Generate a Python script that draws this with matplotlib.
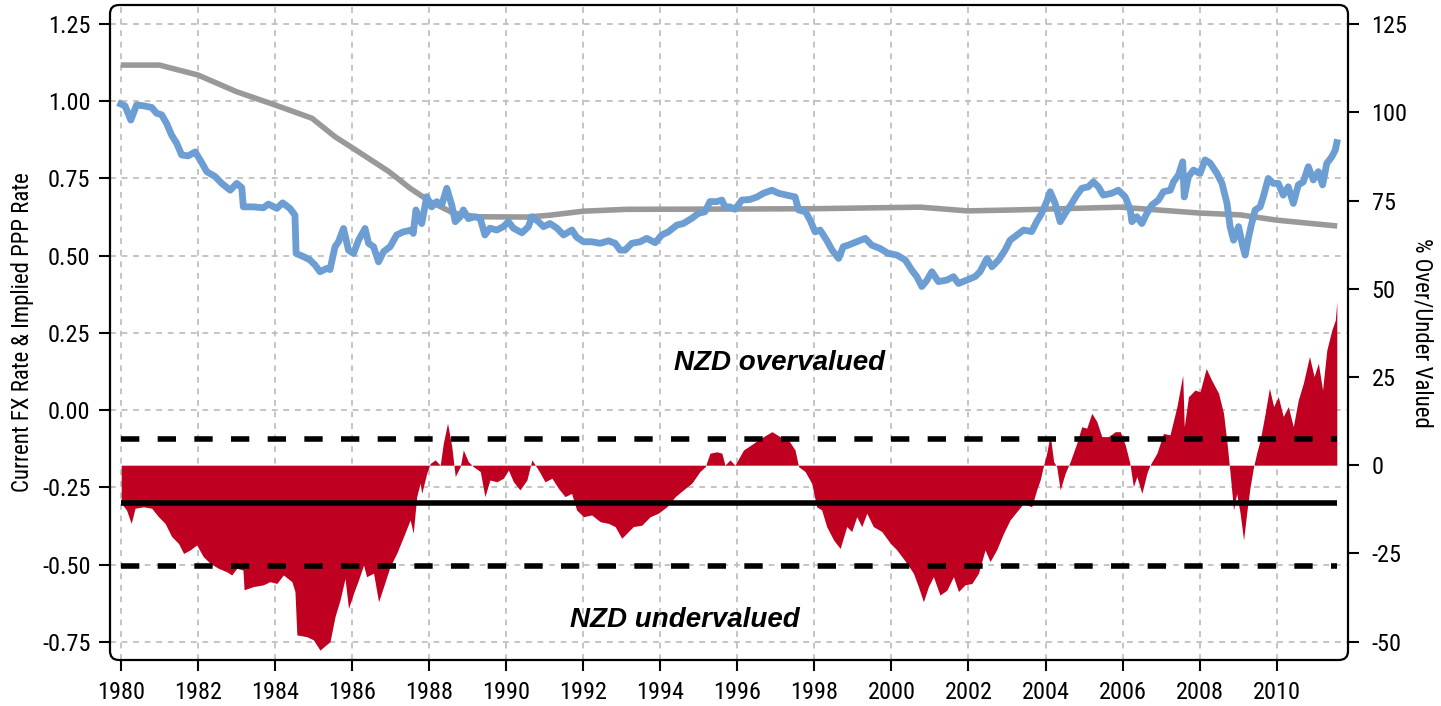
import matplotlib
matplotlib.use("Agg")
import matplotlib.pyplot as plt
from matplotlib import font_manager as fm
from matplotlib.patches import FancyBboxPatch
from matplotlib.ticker import FixedLocator, FormatStrFormatter
import numpy as np

plt.rcParams['axes.unicode_minus'] = False

# ---------------- data ----------------
spot_years = [1980.00, 1980.11, 1980.26, 1980.41, 1980.59, 1980.80, 1980.93, 1981.06, 1981.19, 1981.32,
              1981.45, 1981.58, 1981.75, 1981.93, 1982.06, 1982.23, 1982.45, 1982.62, 1982.84, 1983.01,
              1983.14, 1983.18, 1983.44, 1983.70, 1983.83, 1984.05, 1984.20, 1984.39, 1984.52, 1984.55,
              1984.74, 1984.91, 1985.04, 1985.17, 1985.35, 1985.43, 1985.56, 1985.65, 1985.78, 1985.91,
              1986.04, 1986.17, 1986.34, 1986.43, 1986.56, 1986.69, 1986.82, 1986.99, 1987.16, 1987.33,
              1987.55, 1987.59, 1987.66, 1987.72, 1987.81, 1987.94, 1988.07, 1988.20, 1988.33, 1988.46,
              1988.59, 1988.68, 1988.81, 1988.89, 1989.02, 1989.20, 1989.33, 1989.45, 1989.58, 1989.76,
              1989.93, 1990.06, 1990.19, 1990.41, 1990.58, 1990.67, 1990.84, 1990.97, 1991.14, 1991.32,
              1991.49, 1991.71, 1991.83, 1992.01, 1992.22, 1992.44, 1992.66, 1992.83, 1992.96, 1993.09,
              1993.26, 1993.48, 1993.65, 1993.87, 1994.04, 1994.21, 1994.43, 1994.60, 1994.82, 1994.99,
              1995.16, 1995.29, 1995.47, 1995.60, 1995.68, 1995.81, 1995.94, 1996.12, 1996.33, 1996.51,
              1996.68, 1996.90, 1997.07, 1997.29, 1997.50, 1997.59, 1997.77, 1997.89, 1998.02, 1998.15,
              1998.32, 1998.46, 1998.63, 1998.75, 1998.88, 1999.10, 1999.32, 1999.49, 1999.71, 1999.92,
              2000.14, 2000.36, 2000.53, 2000.66, 2000.79, 2000.92, 2001.05, 2001.22, 2001.44, 2001.61,
              2001.74, 2001.96, 2002.17, 2002.30, 2002.48, 2002.61, 2002.78, 2002.95, 2003.08, 2003.26,
              2003.43, 2003.64, 2003.77, 2003.90, 2004.03, 2004.12, 2004.25, 2004.38, 2004.51, 2004.68,
              2004.81, 2004.94, 2005.11, 2005.24, 2005.37, 2005.50, 2005.72, 2005.89, 2006.07, 2006.20,
              2006.24, 2006.37, 2006.50, 2006.63, 2006.76, 2006.93, 2007.06, 2007.24, 2007.32, 2007.45,
              2007.56, 2007.60, 2007.71, 2007.84, 2008.01, 2008.14, 2008.27, 2008.45, 2008.58, 2008.71,
              2008.79, 2008.88, 2009.01, 2009.10, 2009.18, 2009.27, 2009.35, 2009.44, 2009.57, 2009.65,
              2009.78, 2009.91, 2010.04, 2010.17, 2010.30, 2010.43, 2010.56, 2010.69, 2010.82, 2010.95,
              2011.08, 2011.19, 2011.30, 2011.43, 2011.52, 2011.56]
spot_rate = [0.991, 0.985, 0.939, 0.988, 0.985, 0.980, 0.961, 0.956, 0.928, 0.890,
             0.864, 0.826, 0.823, 0.836, 0.810, 0.772, 0.756, 0.734, 0.712, 0.734,
             0.720, 0.658, 0.658, 0.655, 0.667, 0.653, 0.671, 0.653, 0.631, 0.507,
             0.497, 0.486, 0.470, 0.448, 0.459, 0.455, 0.529, 0.545, 0.588, 0.518,
             0.507, 0.550, 0.588, 0.540, 0.529, 0.480, 0.513, 0.529, 0.567, 0.577,
             0.583, 0.572, 0.648, 0.626, 0.604, 0.691, 0.658, 0.675, 0.664, 0.718,
             0.664, 0.610, 0.626, 0.648, 0.620, 0.626, 0.620, 0.567, 0.589, 0.583,
             0.594, 0.610, 0.589, 0.574, 0.594, 0.626, 0.610, 0.594, 0.604, 0.589,
             0.567, 0.583, 0.560, 0.545, 0.545, 0.540, 0.548, 0.540, 0.518, 0.518,
             0.540, 0.545, 0.556, 0.542, 0.567, 0.577, 0.599, 0.604, 0.621, 0.637,
             0.642, 0.675, 0.675, 0.680, 0.658, 0.658, 0.650, 0.680, 0.682, 0.690,
             0.702, 0.712, 0.702, 0.696, 0.690, 0.648, 0.642, 0.615, 0.577, 0.583,
             0.550, 0.518, 0.491, 0.529, 0.534, 0.545, 0.556, 0.534, 0.523, 0.507,
             0.502, 0.486, 0.453, 0.432, 0.400, 0.420, 0.448, 0.416, 0.421, 0.432,
             0.410, 0.421, 0.432, 0.448, 0.491, 0.464, 0.486, 0.518, 0.550, 0.567,
             0.583, 0.578, 0.610, 0.637, 0.675, 0.707, 0.669, 0.610, 0.637, 0.669,
             0.696, 0.718, 0.723, 0.739, 0.723, 0.696, 0.702, 0.712, 0.690, 0.648,
             0.610, 0.626, 0.604, 0.637, 0.664, 0.680, 0.707, 0.712, 0.739, 0.761,
             0.804, 0.690, 0.756, 0.777, 0.766, 0.810, 0.800, 0.766, 0.734, 0.669,
             0.594, 0.550, 0.594, 0.540, 0.502, 0.560, 0.604, 0.648, 0.658, 0.690,
             0.750, 0.734, 0.734, 0.696, 0.723, 0.669, 0.729, 0.739, 0.788, 0.745,
             0.772, 0.729, 0.799, 0.820, 0.842, 0.866]

ppp_years = [1980.00, 1981.00, 1982.00, 1983.00, 1984.00, 1984.96, 1985.56, 1986.00, 1986.96,
             1987.51, 1988.03, 1988.63, 1989.24, 1990.54, 1991.14, 1992.01, 1993.13, 1996.00,
             1998.00, 2000.75, 2001.97, 2003.20, 2005.93, 2008.00, 2009.05, 2010.00, 2011.57]
ppp_rate = [1.117, 1.117, 1.085, 1.031, 0.988, 0.945, 0.885, 0.850, 0.772,
            0.718, 0.675, 0.638, 0.626, 0.625, 0.631, 0.644, 0.650, 0.651,
            0.652, 0.657, 0.645, 0.648, 0.657, 0.638, 0.632, 0.615, 0.596]

val_years = [1980.01, 1980.15, 1980.27, 1980.37, 1980.59, 1980.80, 1980.98, 1981.15, 1981.32, 1981.50,
             1981.63, 1981.80, 1981.97, 1982.14, 1982.32, 1982.53, 1982.75, 1982.88, 1983.01, 1983.17,
             1983.20, 1983.44, 1983.70, 1983.87, 1984.05, 1984.22, 1984.44, 1984.52, 1984.57, 1984.83,
             1985.00, 1985.17, 1985.43, 1985.56, 1985.69, 1985.82, 1985.91, 1986.04, 1986.17, 1986.30,
             1986.38, 1986.56, 1986.69, 1986.82, 1986.99, 1987.16, 1987.34, 1987.51, 1987.59, 1987.68,
             1987.77, 1987.81, 1987.94, 1988.03, 1988.16, 1988.29, 1988.37, 1988.48, 1988.59, 1988.68,
             1988.81, 1988.89, 1989.02, 1989.15, 1989.33, 1989.45, 1989.58, 1989.76, 1989.93, 1990.06,
             1990.19, 1990.36, 1990.54, 1990.67, 1990.84, 1991.01, 1991.19, 1991.36, 1991.53, 1991.70,
             1991.83, 1992.01, 1992.22, 1992.44, 1992.66, 1992.83, 1993.00, 1993.13, 1993.30, 1993.52,
             1993.74, 1993.95, 1994.17, 1994.39, 1994.60, 1994.82, 1995.03, 1995.17, 1995.29, 1995.47,
             1995.60, 1995.68, 1995.81, 1995.94, 1996.16, 1996.42, 1996.68, 1996.90, 1997.11, 1997.33,
             1997.50, 1997.59, 1997.76, 1997.93, 1998.06, 1998.19, 1998.32, 1998.50, 1998.67, 1998.84,
             1998.97, 1999.10, 1999.23, 1999.36, 1999.53, 1999.75, 1999.97, 2000.14, 2000.40, 2000.57,
             2000.70, 2000.83, 2000.96, 2001.09, 2001.26, 2001.44, 2001.61, 2001.74, 2001.91, 2002.09,
             2002.26, 2002.43, 2002.56, 2002.73, 2002.91, 2003.08, 2003.25, 2003.43, 2003.64, 2003.77,
             2003.86, 2003.95, 2004.03, 2004.12, 2004.21, 2004.29, 2004.38, 2004.51, 2004.64, 2004.81,
             2004.94, 2005.07, 2005.20, 2005.33, 2005.46, 2005.63, 2005.81, 2005.94, 2006.07, 2006.19,
             2006.28, 2006.37, 2006.50, 2006.63, 2006.71, 2006.89, 2007.06, 2007.23, 2007.41, 2007.56,
             2007.60, 2007.71, 2007.88, 2008.01, 2008.17, 2008.31, 2008.49, 2008.62, 2008.72, 2008.79,
             2008.88, 2008.96, 2009.05, 2009.14, 2009.22, 2009.31, 2009.40, 2009.48, 2009.57, 2009.70,
             2009.81, 2009.92, 2010.04, 2010.17, 2010.30, 2010.43, 2010.56, 2010.69, 2010.85, 2010.97,
             2011.08, 2011.19, 2011.30, 2011.43, 2011.52, 2011.56]
val_pct = [-10.8, -12.7, -16.5, -12.2, -11.8, -12.2, -14.6, -16.5, -20.2, -22.2,
           -25.0, -24.0, -22.6, -25.9, -27.8, -29.2, -30.2, -31.1, -29.2, -29.7,
           -35.3, -34.4, -33.9, -33.0, -33.5, -31.1, -33.0, -35.8, -48.1, -48.6,
           -49.5, -52.4, -50.0, -42.9, -38.2, -32.1, -40.6, -36.3, -32.5, -28.3,
           -31.6, -30.6, -38.7, -34.4, -28.7, -25.0, -20.2, -15.5, -19.3, -8.9,
           -5.1, -8.0, -2.3, 0.5, 1.5, 0.0, 6.2, 11.9, 5.3, -3.2,
           -0.4, 4.3, 1.0, -0.4, -1.8, -8.9, -4.2, -4.7, -3.7, -1.4,
           -4.7, -7.0, -4.2, 1.5, -1.4, -4.7, -3.7, -6.6, -8.9, -8.0,
           -12.7, -14.6, -14.1, -16.0, -16.5, -17.4, -20.7, -19.3, -17.4, -17.0,
           -14.6, -13.6, -11.8, -8.9, -7.0, -5.1, -1.8, -0.4, 3.4, 3.8,
           3.4, 0.0, 1.5, 0.0, 4.3, 6.2, 8.1, 9.5, 8.1, 7.1,
           4.3, -0.4, -1.8, -5.1, -11.8, -12.7, -17.4, -21.2, -23.6, -17.4,
           -18.8, -14.6, -17.4, -13.6, -17.4, -18.8, -22.1, -24.0, -27.8, -30.6,
           -34.4, -38.7, -34.4, -31.6, -36.8, -35.4, -31.6, -35.8, -33.9, -33.5,
           -30.6, -24.0, -27.3, -24.0, -19.3, -15.5, -13.2, -10.8, -11.8, -7.0,
           -4.2, 0.0, 3.4, 8.6, 1.0, -0.4, -7.0, -2.3, 1.0, 6.2,
           10.9, 10.5, 14.7, 12.4, 8.1, 8.1, 9.5, 9.5, 5.7, 0.5,
           -6.1, -3.2, -8.0, -2.3, 0.0, 3.4, 9.0, 8.6, 16.6, 25.5,
           10.9, 19.4, 21.3, 20.8, 27.4, 24.1, 20.4, 14.7, 5.3, -2.3,
           -12.7, -8.0, -13.6, -21.2, -13.6, -6.1, -0.4, 3.4, 7.1, 14.7,
           21.8, 16.6, 19.4, 13.8, 16.6, 10.9, 18.5, 23.2, 30.8, 25.1,
           28.9, 21.3, 32.6, 38.3, 41.1, 46.3]

val_mean = -10.6     # average over/under valuation (%)
val_sd = 18.1        # one standard deviation band (%)

x_ticks = list(range(1980, 2011, 2))
left_ticks = [-0.75, -0.50, -0.25, 0.00, 0.25, 0.50, 0.75, 1.00, 1.25]
right_ticks = [-50, -25, 0, 25, 50, 75, 100, 125]

# ---------------- fonts ----------------
available = {f.name for f in fm.fontManager.ttflist}
def pick(cands):
    for c in cands:
        if c in available:
            return c
    return 'DejaVu Sans'
COND = pick(['Liberation Sans Narrow', 'Roboto Condensed', 'DejaVu Sans Condensed', 'Liberation Sans'])
BOLDIT = pick(['Liberation Sans', 'Open Sans', 'DejaVu Sans'])
plt.rcParams['font.family'] = [COND, 'DejaVu Sans']

# ---------------- figure ----------------
W, H = 14.41, 7.06
fig = plt.figure(figsize=(W, H), dpi=100)
L, R, B, T = 110 / 1441, 1348 / 1441, 46 / 706, 701 / 706
ax = fig.add_axes([L, B, R - L, T - B])
ax.set_xlim(1979.72, 2011.85)
ax.set_ylim(-0.809, 1.3115)
ax2 = ax.twinx()
ax2.set_ylim(-55.2, 130.4)

for a in (ax, ax2):
    for s in a.spines.values():
        s.set_visible(False)

ax.xaxis.set_major_locator(FixedLocator(x_ticks))
ax.yaxis.set_major_locator(FixedLocator(left_ticks))
ax.yaxis.set_major_formatter(FormatStrFormatter('%.2f'))
ax2.yaxis.set_major_locator(FixedLocator(right_ticks))
ax2.yaxis.set_major_formatter(FormatStrFormatter('%d'))

ax.set_axisbelow(True)
ax.grid(True, color='#BFBFBF', linestyle=(0, (3.2, 3.2)), linewidth=1.3)

ax.tick_params(axis='both', direction='out', length=8, width=1.5, labelsize=17.5, pad=6, colors='black')
ax.tick_params(axis='x', pad=7)
ax2.tick_params(axis='y', direction='out', length=8, width=1.5, labelsize=17.5, pad=9)

# lines
ax.plot(ppp_years, ppp_rate, color='#999999', lw=4.0, solid_capstyle='butt', zorder=2)
ax.plot(spot_years, spot_rate, color='#6C9DD3', lw=4.9, solid_joinstyle='round', zorder=3)

# valuation area and bands
ax2.fill_between(val_years, val_pct, 0, color='#C00020', lw=0, zorder=1)
x0, x1 = val_years[0], val_years[-1]
ax2.hlines(val_mean, x0, x1, color='black', lw=4.0, zorder=3)
ax2.hlines([val_mean + val_sd, val_mean - val_sd], x0, x1, color='black', lw=4.0,
           linestyles=[(0, (3.3, 3.3))], zorder=3)

ax.set_ylabel('Current FX Rate & Implied PPP Rate', fontsize=16.5, labelpad=6)
ax2.set_ylabel('% Over/Under Valued', fontsize=16.5, rotation=270, va='bottom', labelpad=2)

ax.text(1997.11, 0.130, 'NZD overvalued', ha='center', va='baseline', fontsize=20,
        fontweight='bold', fontstyle='italic', family=[BOLDIT, 'DejaVu Sans'], zorder=5)
ax.text(1994.63, -0.703, 'NZD undervalued', ha='center', va='baseline', fontsize=20,
        fontweight='bold', fontstyle='italic', family=[BOLDIT, 'DejaVu Sans'], zorder=5)

# rounded frame
frame = FancyBboxPatch((L * W, B * H), (R - L) * W, (T - B) * H,
                       boxstyle='round,pad=0,rounding_size=0.09',
                       transform=fig.dpi_scale_trans, fill=False, lw=1.6,
                       ec='black', zorder=10)
fig.add_artist(frame)

fig.savefig('out.png', dpi=100)
